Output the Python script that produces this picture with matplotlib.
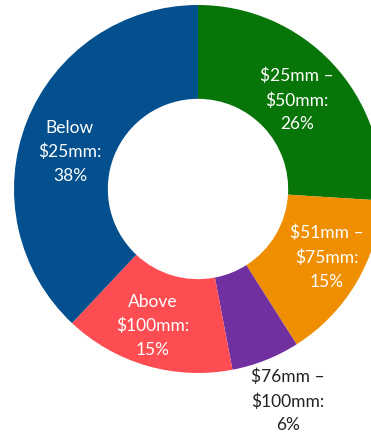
import matplotlib
matplotlib.use("Agg")
import matplotlib.pyplot as plt

# deal size buckets, clockwise from 12 o'clock
labels = ['$25mm –\n$50mm:\n26%', '$51mm –\n$75mm:\n15%', '$76mm –\n$100mm:\n6%',
          'Above\n$100mm:\n15%', 'Below\n$25mm:\n38%']
shares = [26, 15, 6, 15, 38]
colors = ['#087508', '#ef8f00', '#7030a0', '#fd4d52', '#044f8d']
text_colors = ['white', 'white', '#222222', 'white', 'white']
# label anchor points (pie radius = 1)
label_xy = [(0.538, 0.484), (0.701, -0.370), (0.489, -1.152), (-0.245, -0.745), (-0.696, 0.201)]

fig = plt.figure(figsize=(3.71, 4.32), dpi=100)
ax = fig.add_axes([0, 0, 1, 1])
ax.pie(shares, colors=colors, startangle=90, counterclock=False, radius=1,
       wedgeprops=dict(width=0.51, edgecolor='none'))

for lab, (x, y), c in zip(labels, label_xy, text_colors):
    ax.text(x, y, lab, ha='center', va='center', color=c, fontsize=12.5,
            family=['Lato', 'DejaVu Sans'], linespacing=1.6)

# donut centre sits at pixel (198, 189), 184 px per unit; right side is cropped
ax.set_xlim(-198 / 184, (371 - 198) / 184)
ax.set_ylim(-(432 - 189) / 184, 189 / 184)
ax.set_aspect('auto')
ax.axis('off')

fig.savefig('out.png', dpi=100)
